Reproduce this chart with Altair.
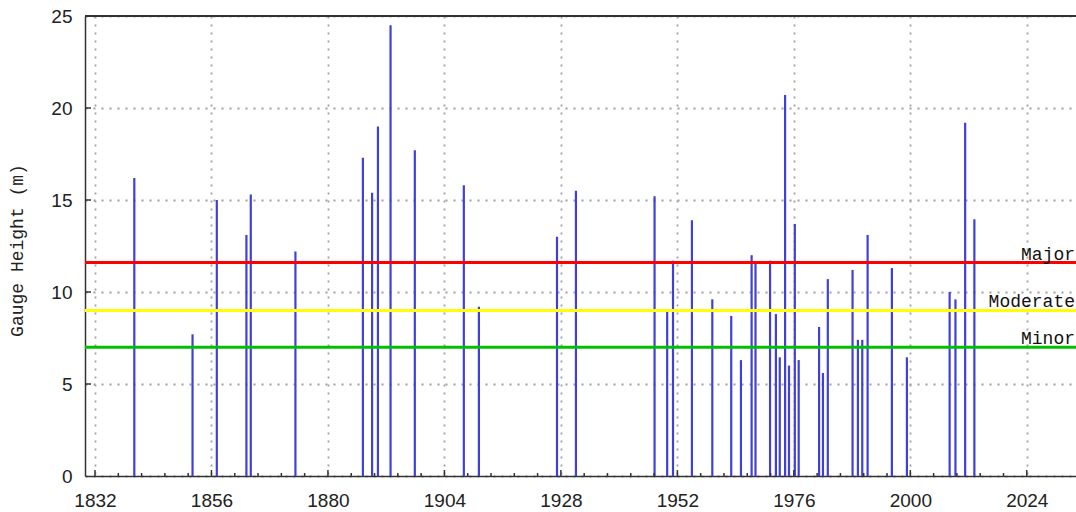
import altair as alt
import pandas as pd

# ---- data ----
flood_years = [1840.1, 1852.1, 1857.1, 1863.2, 1864.1, 1873.3, 1887.2, 1889.1, 1890.3,
               1892.9, 1897.9, 1908.0, 1911.1, 1927.2, 1931.1, 1947.3, 1949.9, 1951.1,
               1955.0, 1959.2, 1963.1, 1965.1, 1967.3, 1968.1, 1971.1, 1972.3, 1973.1,
               1974.2, 1975.0, 1976.2, 1977.0, 1981.2, 1982.0, 1983.0, 1988.1, 1989.2,
               1990.1, 1991.2, 1996.2, 1999.3, 2008.1, 2009.3, 2011.3, 2013.2]
gauge_heights = [16.2, 7.7, 15.0, 13.1, 15.3, 12.2, 17.3, 15.4, 19.0,
                 24.5, 17.7, 15.8, 9.2, 13.0, 15.5, 15.2, 9.0, 11.7,
                 13.9, 9.6, 8.7, 6.3, 12.0, 11.6, 11.7, 8.8, 6.45,
                 20.7, 6.0, 13.7, 6.3, 8.1, 5.6, 10.7, 11.2, 7.4,
                 7.4, 13.1, 11.3, 6.45, 10.0, 9.6, 19.2, 13.95]

x_tick_labels = [1832, 1856, 1880, 1904, 1928, 1952, 1976, 2000, 2024]
y_tick_labels = [0, 5, 10, 15, 20, 25]

level_names = ["Major", "Moderate", "Minor"]
level_values = [11.6, 9.0, 7.0]
level_colors = ["#ff0000", "#ffff00", "#00c000"]

# ---- tables ----
bars_df = pd.DataFrame({"year": flood_years, "value": gauge_heights})
levels_df = pd.DataFrame({"name": level_names, "value": level_values, "color": level_colors})
xt_df = pd.DataFrame({"year": x_tick_labels})
yt_df = pd.DataFrame({"value": y_tick_labels[1:-1]})
minor = []
for a, b in zip(x_tick_labels[:-1], x_tick_labels[1:]):
    step = (b - a) / 5
    minor += [a + step * k for k in range(1, 5)]
minor_df = pd.DataFrame({"year": minor})

W, H = 991, 460
X_DOMAIN = [1829.94, 2034.14]
xscale = alt.Scale(domain=X_DOMAIN, nice=False, zero=False)
yscale = alt.Scale(domain=[0, 25], nice=False, zero=True)

grid_kw = dict(grid=True, gridDash=[2, 6], gridColor="#a0a0a0", gridWidth=1.8,
               domainColor="#333333", domainWidth=1.5, tickSize=0,
               labelFont="Liberation Sans", labelFontSize=19, labelColor="#222222")

x_axis = alt.Axis(values=x_tick_labels, format="d", labelPadding=24,
                  labelBaseline="middle", title=None, **grid_kw)
y_axis = alt.Axis(values=y_tick_labels, labelPadding=13, title="Gauge Height (m)",
                  titleFont="Liberation Mono", titleFontSize=18, titleFontWeight="normal",
                  titleColor="#222222", titleX=-68, titleY=234, titleAngle=270,
                  titleAlign="center", titleBaseline="middle", **grid_kw)


def X(field="year"):
    return alt.X(f"{field}:Q", scale=xscale, axis=x_axis)


def Y(field="value"):
    return alt.Y(f"{field}:Q", scale=yscale, axis=y_axis)


bars = alt.Chart(bars_df).mark_rule(color="#4040d8", strokeWidth=2.2).encode(
    x=X(), y=Y(), y2=alt.datum(0),
)

level_lines = alt.Chart(levels_df).mark_rule(strokeWidth=3).encode(
    y=Y(),
    x=alt.value(0),
    x2=alt.value(W),
    color=alt.Color("color:N", scale=None, legend=None),
)

level_text = alt.Chart(levels_df).mark_text(
    align="right", baseline="alphabetic", dy=-3, font="Liberation Mono",
    fontSize=18, color="#111111"
).encode(
    y=Y(),
    x=alt.value(W - 1),
    text="name:N",
)

major_xt = alt.Chart(xt_df).mark_rule(color="#333333", strokeWidth=1.5).encode(
    x=X(), y=alt.value(H), y2=alt.value(H - 6),
)
minor_xt = alt.Chart(minor_df).mark_rule(color="#333333", strokeWidth=1.5).encode(
    x=X(), y=alt.value(H), y2=alt.value(H - 3),
)
major_yt = alt.Chart(yt_df).mark_rule(color="#333333", strokeWidth=1.5).encode(
    y=Y(), x=alt.value(0), x2=alt.value(6),
)

top_border = alt.Chart(xt_df).mark_rule(color="#333333", strokeWidth=1.5).encode(
    y=alt.value(0), x=alt.value(0), x2=alt.value(W),
)

chart = alt.layer(
    bars, level_lines, level_text, major_xt, minor_xt, major_yt, top_border
).properties(
    width=W, height=H,
    autosize=alt.AutoSizeParams(type="none"),
    padding={"left": 85, "top": 16, "right": 0, "bottom": 36},
    background="white",
).configure_view(stroke=None)

chart.save("out.html", embed_options={"renderer": "svg", "actions": False})
